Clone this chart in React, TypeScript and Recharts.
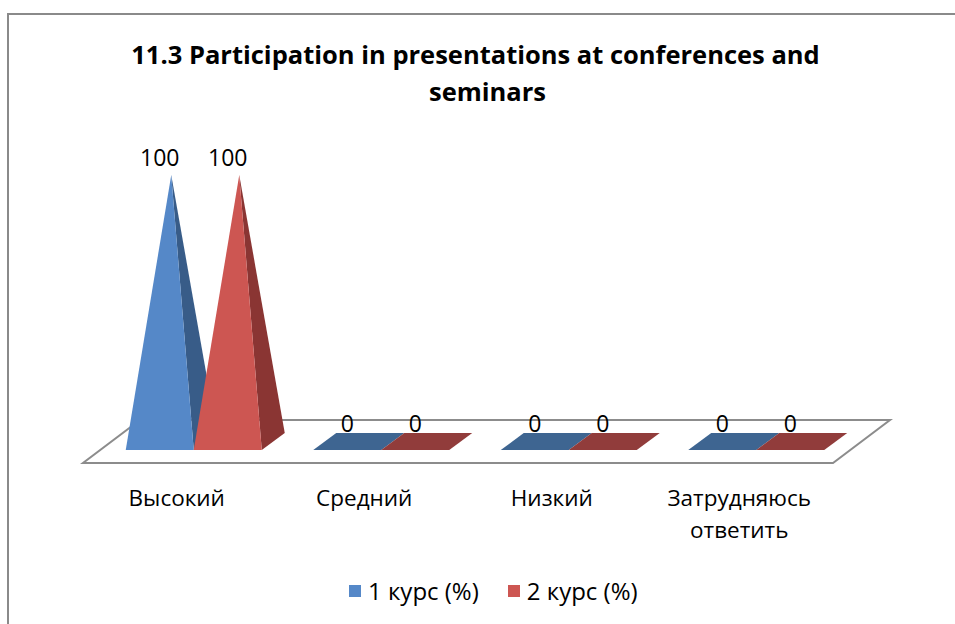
import { BarChart, Bar, XAxis, YAxis, Legend, LabelList, ReferenceArea } from 'recharts';

const categories = ['Высокий', 'Средний', 'Низкий', 'Затрудняюсь ответить'];
const course1 = [100, 0, 0, 0];
const course2 = [100, 0, 0, 0];
const seriesNames = ['1 курс (%)', '2 курс (%)'];
const titleLines = ['11.3 Participation in presentations at conferences and', 'seminars'];

const data = categories.map((name, i) => ({ name, c1: course1[i], c2: course2[i] }));

const FONT = '"Open Sans", sans-serif';
// depth of a bar (oblique projection)
const DX = 23;
const DY = 17;

const palette = {
  c1: { front: '#5588c8', side: '#385c88', flat: '#3e6591' },
  c2: { front: '#cd5652', side: '#8a3533', flat: '#913c3b' },
};

const toPts = (pts: number[][]) => pts.map((p) => p.join(',')).join(' ');

function Pyramid(props: any) {
  const { x, y, width, height, colors } = props;
  const base = y + height;
  if (!(height > 0.5)) {
    const pts = [[x, base], [x + width, base], [x + width + DX, base - DY], [x + DX, base - DY]];
    return <polygon points={toPts(pts)} fill={colors.flat} />;
  }
  const apex = [x + width / 2 + DX / 2, y - DY / 2];
  const front = [[x, base], [x + width, base], apex];
  const side = [[x + width, base], [x + width + DX, base - DY], apex];
  return (
    <g>
      <polygon points={toPts(side)} fill={colors.side} />
      <polygon points={toPts(front)} fill={colors.front} />
    </g>
  );
}

function Floor(props: any) {
  const { x, y, width, height } = props;
  const b = y + height;
  const pts = [
    [x - 17, b + 13],
    [x + width - 17, b + 13],
    [x + width + 40, b - 30],
    [x + 40, b - 30],
  ];
  return <polygon points={toPts(pts)} fill="#fff" stroke="#8c8c8c" strokeWidth={2} />;
}

function CategoryTick(props: any) {
  const { x, y, payload } = props;
  const lines = String(payload.value).split(' ');
  return (
    <text x={x - 17} y={y + 56} textAnchor="middle" fontFamily={FONT} fontSize={22.5} fill="#000">
      {lines.map((l, i) => (
        <tspan key={i} x={x - 17} dy={i === 0 ? 0 : 32}>{l}</tspan>
      ))}
    </text>
  );
}

function ValueLabel(props: any) {
  const { x, y, width, value } = props;
  return (
    <text x={x + width / 2} y={y - 18} textAnchor="middle" fontFamily={FONT} fontSize={23} fill="#000">
      {value}
    </text>
  );
}

function LegendContent() {
  const items = [
    { name: seriesNames[0], color: palette.c1.front },
    { name: seriesNames[1], color: palette.c2.front },
  ];
  return (
    <div style={{ display: 'flex', alignItems: 'center', fontFamily: FONT, fontSize: 24, lineHeight: '28px', color: '#000' }}>
      {items.map((it, i) => (
        <div key={i} style={{ display: 'flex', alignItems: 'center', marginRight: 29 }}>
          <span style={{ width: 12, height: 12, background: it.color, marginRight: 7, display: 'inline-block' }} />
          <span>{it.name}</span>
        </div>
      ))}
    </div>
  );
}

export default function App() {
  return (
    <div style={{ position: 'absolute', left: 0, top: 0, width: 955, height: 624, overflow: 'hidden', background: '#fff' }}>
      <div style={{ position: 'absolute', left: 7, top: 13, width: 1200, height: 900, border: '2px solid #8a8a8a' }} />
      <div
        style={{
          position: 'absolute', left: 0, top: 36, width: 951, textAlign: 'center',
          fontFamily: FONT, fontWeight: 700, fontSize: 25.5, lineHeight: '37px', color: '#000',
        }}
      >
        {titleLines.map((t, i) => (
          <div key={i} style={{ position: 'relative', left: i === 0 ? 0 : 12 }}>{t}</div>
        ))}
      </div>
      <div style={{ position: 'absolute', left: 0, top: 0 }}>
        <BarChart
          width={955}
          height={624}
          data={data}
          margin={{ top: 183.5, right: 105, bottom: 114, left: 100 }}
          barCategoryGap={25.75}
          barGap={0}
        >
          <XAxis dataKey="name" height={60} axisLine={false} tickLine={false} tickSize={0} tickMargin={0} tick={<CategoryTick />} interval={0} />
          <YAxis hide domain={[0, 100]} />
          <ReferenceArea y1={0} y2={100} shape={<Floor />} ifOverflow="visible" />
          <Bar dataKey="c1" name={seriesNames[0]} fill={palette.c1.front} isAnimationActive={false}
            shape={(p: any) => <Pyramid {...p} colors={palette.c1} />}>
            <LabelList dataKey="c1" content={<ValueLabel />} />
          </Bar>
          <Bar dataKey="c2" name={seriesNames[1]} fill={palette.c2.front} isAnimationActive={false}
            shape={(p: any) => <Pyramid {...p} colors={palette.c2} />}>
            <LabelList dataKey="c2" content={<ValueLabel />} />
          </Bar>
          <Legend verticalAlign="middle" align="center" content={<LegendContent />}
            wrapperStyle={{ top: 577, left: 349, width: 420 }} />
        </BarChart>
      </div>
    </div>
  );
}
